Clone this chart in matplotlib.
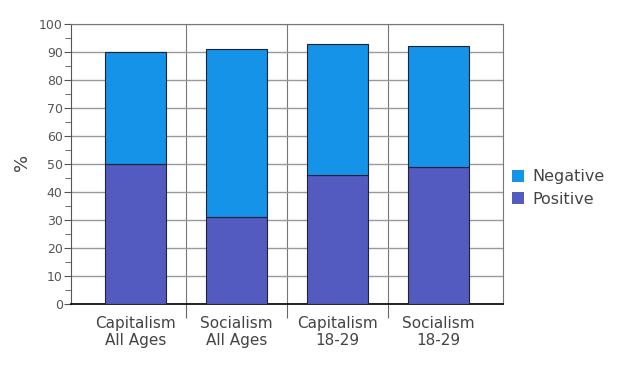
import matplotlib
matplotlib.use("Agg")
import matplotlib.pyplot as plt
import numpy as np
from matplotlib.patches import Patch

categories = ["Capitalism\nAll Ages", "Socialism\nAll Ages", "Capitalism\n18-29", "Socialism\n18-29"]
positive = [50, 31, 46, 49]
negative = [40, 60, 47, 43]
yticks = list(range(0, 101, 10))

c_pos = "#535bc0"
c_neg = "#1493e8"

fig = plt.figure(figsize=(6.23, 3.68), dpi=100)
ax = fig.add_axes([71/623, 64/368, 432/623, 280/368])
x = np.arange(len(categories))
ax.bar(x, positive, width=0.6, color=c_pos, edgecolor="#222233", linewidth=0.8, zorder=3)
ax.bar(x, negative, width=0.6, bottom=positive, color=c_neg, edgecolor="#222233", linewidth=0.8, zorder=3)

ax.set_xlim(-0.64, 3.64)
ax.set_ylim(0, 100)
ax.set_yticks(yticks)
ax.set_yticks(range(5, 100, 10), minor=True)
ax.tick_params(axis="y", which="major", length=5, color="#555555", labelsize=9, labelcolor="#555555", pad=1)
ax.tick_params(axis="y", which="minor", length=4, color="#555555")
ax.yaxis.grid(True, color="#999999", linewidth=1, zorder=0)

# category separators
ax.set_xticks([0.5, 1.5, 2.5])
ax.set_xticklabels([])
ax.tick_params(axis="x", which="major", length=10, color="#666666")
for s in [0.5, 1.5, 2.5]:
    ax.axvline(s, color="#777777", linewidth=0.8, zorder=1)
for i, lab in enumerate(categories):
    ax.text(x[i], -4.3, lab, ha="center", va="top", fontsize=11, color="#444444",
            linespacing=1.2, transform=ax.transData)

for side in ["top", "right"]:
    ax.spines[side].set_color("#777777")
ax.spines["left"].set_color("#555555")
ax.spines["bottom"].set_color("#000000")
ax.spines["bottom"].set_linewidth(1.2)

fig.text(22/623, 1 - 162/368, "%", rotation=90, ha="center", va="center", fontsize=13, color="#444444")

handles = [Patch(facecolor=c_neg, edgecolor="none"), Patch(facecolor=c_pos, edgecolor="none")]
fig.legend(handles, ["Negative", "Positive"], loc="upper left", bbox_to_anchor=(498/623, 1 - 155/368),
           frameon=False, fontsize=11.5, handlelength=0.75, handleheight=0.75, handletextpad=0.5,
           labelspacing=0.45, labelcolor="#444444")

fig.savefig("out.png", dpi=100)
